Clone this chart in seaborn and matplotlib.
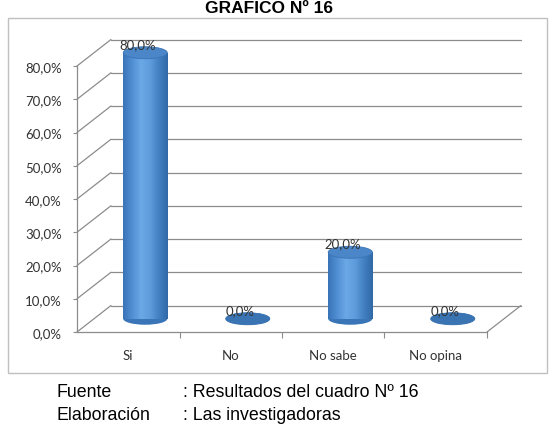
"""
GRAFICO Nº 16 - barras cilíndricas con perspectiva (estilo Excel 3D)
"""
import numpy as np
import pandas as pd
import matplotlib
matplotlib.use("Agg")
import matplotlib.pyplot as plt
import seaborn as sns

from matplotlib.patches import Ellipse, Rectangle
from matplotlib.colors  import LinearSegmentedColormap

# ================================================================================
# Datos
# ================================================================================
categorias = ["Si", "No", "No sabe", "No opina"]
valores    = [0.80, 0.00, 0.20, 0.00]
y_ticks    = [0.0, 0.1, 0.2, 0.3, 0.4, 0.5, 0.6, 0.7, 0.8]

titulo     = "GRAFICO Nº 16"
pie_etiq   = ["Fuente", "Elaboración"]
pie_texto  = [": Resultados del cuadro Nº 16", ": Las investigadoras"]

# ================================================================================
# Estilo
# ================================================================================
sns.set_theme(style="white")
plt.rcParams["font.family"] = ["Lato", "DejaVu Sans"]

FIG_W, FIG_H = 554, 435            # pixels (dpi=100)
AX_RECT      = [77, 67, 410, 266]  # left, top, width, height (pixels)
DEPTH_PX     = (34, 26.5)          # perspective offset of the back wall (pixels)
GRID_COL     = "#8c8c8c"
TEXT_COL     = "#333333"
ARIAL        = ["Liberation Sans", "DejaVu Sans"]
TICK_SIZE    = 9.5
BAR_W        = 0.43
ELL_H_PX     = 12

cyl_cmap = LinearSegmentedColormap.from_list(
    "cyl", ["#3873b6", "#508ed3", "#6aa8e6", "#5e9cdc", "#4280c2", "#3168a6"])

fig = plt.figure(figsize=(FIG_W / 100, FIG_H / 100), dpi=100)
ax  = fig.add_axes([AX_RECT[0] / FIG_W,
                    1 - (AX_RECT[1] + AX_RECT[3]) / FIG_H,
                    AX_RECT[2] / FIG_W,
                    AX_RECT[3] / FIG_H])

xmin, xmax = -0.5, len(categorias) - 0.5
ymin, ymax = 0.0, y_ticks[-1]

# depth offsets in data units
dx    = DEPTH_PX[0] / AX_RECT[2] * (xmax - xmin)
dy    = DEPTH_PX[1] / AX_RECT[3] * (ymax - ymin)
ell_h = ELL_H_PX / AX_RECT[3] * (ymax - ymin)

# --------------------------------------------------------------------------------
# Paredes: rejilla del fondo + diagonales de la pared izquierda
# --------------------------------------------------------------------------------
for t in y_ticks:
    ax.plot([xmin + dx, xmax + dx], [t + dy, t + dy], color=GRID_COL, lw=0.9,
            clip_on=False, zorder=1)
    ax.plot([xmin, xmin + dx], [t, t + dy], color=GRID_COL, lw=0.9,
            clip_on=False, zorder=1)
# piso: diagonal derecha
ax.plot([xmax, xmax + dx], [0, dy], color=GRID_COL, lw=0.9, clip_on=False, zorder=1)

# --------------------------------------------------------------------------------
# Cilindros
# --------------------------------------------------------------------------------
df = pd.DataFrame({"categoria": categorias, "valor": valores})
sns.barplot(data=df, x="categoria", y="valor", ax=ax, width=BAR_W,
            color="#4a86c8", saturation=1, zorder=3)

for i, (p, v) in enumerate(zip(ax.patches, valores)):
    cx = i + dx / 2
    cy = dy / 2
    p.set_x(cx - BAR_W / 2)
    p.set_y(cy)
    p.set_clip_on(False)
    p.set_linewidth(0)

    # base (mitad inferior visible)
    ax.add_patch(Ellipse((cx, cy), BAR_W, ell_h, facecolor="#3a75b8",
                         edgecolor="none", zorder=2.5, clip_on=False))

    if v > 0:
        grad = np.linspace(0, 1, 256)[np.newaxis, :]
        im = ax.imshow(grad, extent=(cx - BAR_W / 2, cx + BAR_W / 2, cy, cy + v),
                       cmap=cyl_cmap, aspect="auto", interpolation="bicubic",
                       zorder=3.5)
        im.set_clip_path(p)
        top_col, top_edge = "#4a86c8", "#3b74b5"
    else:
        top_col, top_edge = "#3a74b2", "#3a74b2"

    # tapa
    ax.add_patch(Ellipse((cx, cy + v), BAR_W, ell_h, facecolor=top_col,
                         edgecolor=top_edge, lw=0.6, zorder=4, clip_on=False))

    # etiqueta de valor
    ax.annotate(f"{v * 100:.1f}%".replace(".", ","), xy=(i, v),
                xytext=(6.5, 16), textcoords="offset points",
                ha="center", va="center", fontsize=TICK_SIZE, color=TEXT_COL,
                zorder=5, annotation_clip=False)

# --------------------------------------------------------------------------------
# Ejes
# --------------------------------------------------------------------------------
ax.set_xlim(xmin, xmax)
ax.set_ylim(ymin, ymax)
ax.set_xlabel(""); ax.set_ylabel("")
ax.set_facecolor("none")

ax.set_yticks(y_ticks)
ax.set_yticklabels([f"{t * 100:.1f}%".replace(".", ",") for t in y_ticks])
ax.set_xticks(range(len(categorias)))
ax.set_xticklabels(categorias)
ax.set_xticks(np.arange(xmin + 1, xmax + 0.01, 1), minor=True)

ax.tick_params(axis="y", which="major", length=3, width=0.8, color=GRID_COL,
               pad=8, labelsize=TICK_SIZE, labelcolor=TEXT_COL, left=True)
ax.tick_params(axis="x", which="major", length=0, pad=12, labelsize=TICK_SIZE,
               labelcolor=TEXT_COL)
ax.tick_params(axis="x", which="minor", length=4, width=0.8, color=GRID_COL,
               bottom=True)

for side in ["top", "right"]:
    ax.spines[side].set_visible(False)
for side in ["left", "bottom"]:
    ax.spines[side].set_color(GRID_COL)
    ax.spines[side].set_linewidth(0.9)

# --------------------------------------------------------------------------------
# Marco, título y pie
# --------------------------------------------------------------------------------
fig.patches.append(Rectangle((8 / FIG_W, 1 - 374 / FIG_H), 539 / FIG_W, 355 / FIG_H,
                             transform=fig.transFigure, fill=False,
                             edgecolor="#c0c0c0", lw=1.0))

fig.text(269 / FIG_W, 1 - 13 / FIG_H, titulo, ha="center", va="baseline",
         fontsize=12.5, fontweight="bold", family=ARIAL, color="black")

for k, (etq, txt) in enumerate(zip(pie_etiq, pie_texto)):
    yb = 1 - (397 + 23 * k) / FIG_H
    fig.text(57 / FIG_W, yb, etq, ha="left", va="baseline", fontsize=12.8,
             family=ARIAL, color="black")
    fig.text(183 / FIG_W, yb, txt, ha="left", va="baseline", fontsize=12.8,
             family=ARIAL, color="black")

fig.savefig("out.png", dpi=100, facecolor="white")
